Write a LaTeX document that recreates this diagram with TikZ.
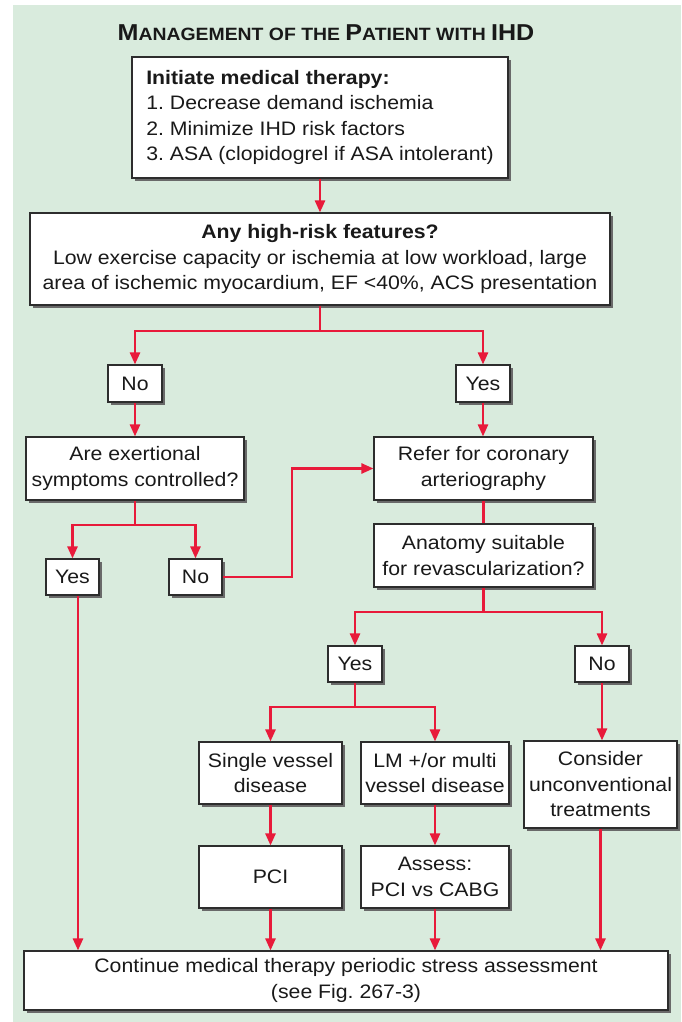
\documentclass[tikz,border=0pt]{standalone}
\usepackage{fontspec}
\setmainfont{Liberation Sans}[FakeStretch=1.09]
\usetikzlibrary{arrows.meta,shadows}
\definecolor{panelgreen}{RGB}{217,235,221}
\definecolor{flowred}{RGB}{232,26,58}
\definecolor{boxline}{RGB}{45,45,45}
\definecolor{shadowgray}{RGB}{105,105,105}
\definecolor{inktext}{RGB}{25,25,25}
\newcommand\bigcapsize{\fontsize{23}{26}\selectfont}
\newcommand\smallcapsize{\fontsize{17.8}{26}\selectfont}
\frenchspacing
\begin{document}
\begin{tikzpicture}[x=1pt,y=-1pt,
  box/.style={draw=boxline, line width=1.1pt, fill=white, inner sep=0pt,
    align=center, text=inktext, font=\fontsize{19.5}{25.5}\selectfont,
    drop shadow={shadow xshift=3pt, shadow yshift=-3pt, fill=shadowgray, opacity=1}},
  link/.style={draw=flowred, line width=2.4pt},
  arr/.style={link, -{Triangle[length=12pt,width=10pt]}},
]
\useasboundingbox (0,0) rectangle (681,1022);
\fill[panelgreen] (13,5) rectangle (681,1022);

% heading
\node[font=\bfseries, text=inktext, inner sep=0pt] (title) at (326,33)
  {\bigcapsize M\smallcapsize ANAGEMENT OF THE \bigcapsize P\smallcapsize ATIENT WITH \bigcapsize IHD};

% boxes
\node[box, align=left, minimum width=376pt, minimum height=121pt] (start) at (320,117.5)
  {\textbf{Initiate medical therapy:}\\1. Decrease demand ischemia\\2. Minimize IHD risk factors\\3. ASA (clopidogrel if ASA intolerant)};
\node[box, minimum width=580pt, minimum height=92pt] (risk) at (320,259)
  {\textbf{Any high-risk features?}\\Low exercise capacity or ischemia at low workload, large\\area of ischemic myocardium, EF <40\%, ACS presentation};

\node[box, minimum width=54pt, minimum height=37pt] (noA) at (135,383.5) {No};
\node[box, minimum width=54pt, minimum height=37pt] (yesA) at (483,383.5) {Yes};

\node[box, minimum width=218pt, minimum height=63pt] (q) at (135,468.5)
  {Are exertional\\symptoms controlled?};
\node[box, minimum width=219pt, minimum height=63pt] (refer) at (483.5,468.5)
  {Refer for coronary\\arteriography};

\node[box, minimum width=53pt, minimum height=36pt] (yesB) at (72.5,577) {Yes};
\node[box, minimum width=53pt, minimum height=36pt] (noB) at (195.5,577) {No};

\node[box, minimum width=219pt, minimum height=63pt] (anat) at (483.5,555.5)
  {Anatomy suitable\\for revascularization?};

\node[box, minimum width=54pt, minimum height=36pt] (yesC) at (355,664) {Yes};
\node[box, minimum width=54pt, minimum height=36pt] (noC) at (602,664) {No};

\node[box, minimum width=143pt, minimum height=62pt] (single) at (270.5,773)
  {Single vessel\\disease};
\node[box, minimum width=148pt, minimum height=62pt] (lm) at (435,773)
  {LM +/or multi\\vessel disease};
\node[box, minimum width=153pt, minimum height=87pt] (consider) at (600.5,784.5)
  {Consider\\unconventional\\treatments};

\node[box, minimum width=143pt, minimum height=62pt] (pci) at (270.5,877) {PCI};
\node[box, minimum width=148pt, minimum height=62pt] (assess) at (435,877)
  {Assess:\\PCI vs CABG};

\node[box, minimum width=644pt, minimum height=59pt] (final) at (346,980.5)
  {Continue medical therapy periodic stress assessment\\(see Fig. 267-3)};

% branch points
\coordinate (b1) at (320,331);
\coordinate (b2) at (135,525);
\coordinate (jog) at (292,524);
\coordinate (b3) at (483.5,612);
\coordinate (b4) at (355,707);

% connectors
\draw[arr] (start.south) -- (risk.north);
\draw[link] (risk.south) -- (b1);
\draw[arr] (b1) -| (noA.north);
\draw[arr] (b1) -| (yesA.north);
\draw[arr] (noA.south) -- (q.north);
\draw[arr] (yesA.south) -- (yesA.south |- refer.north);

\draw[link] (q.south) -- (b2);
\draw[arr] (b2) -| (yesB.north);
\draw[arr] (b2) -| (noB.north);
\draw[arr] (noB.east) -- (noB.east -| jog) -- (jog |- refer.west) -- (refer.west);

\draw[link] (refer.south) -- (anat.north);
\draw[link] (anat.south) -- (b3);
\draw[arr] (b3) -| (yesC.north);
\draw[arr] (b3) -| (noC.north);

\draw[link] (yesC.south) -- (b4);
\draw[arr] (b4) -| (single.north);
\draw[arr] (b4) -| (lm.north);
\draw[arr] (noC.south) -- (noC.south |- consider.north);

\draw[arr] (single.south) -- (pci.north);
\draw[arr] (lm.south) -- (assess.north);

\draw[arr] ([xshift=5.5pt]yesB.south) -- ([xshift=5.5pt]yesB.south |- final.north);
\draw[arr] (pci.south) -- (pci.south |- final.north);
\draw[arr] (assess.south) -- (assess.south |- final.north);
\draw[arr] (consider.south) -- (consider.south |- final.north);
\end{tikzpicture}
\end{document}
